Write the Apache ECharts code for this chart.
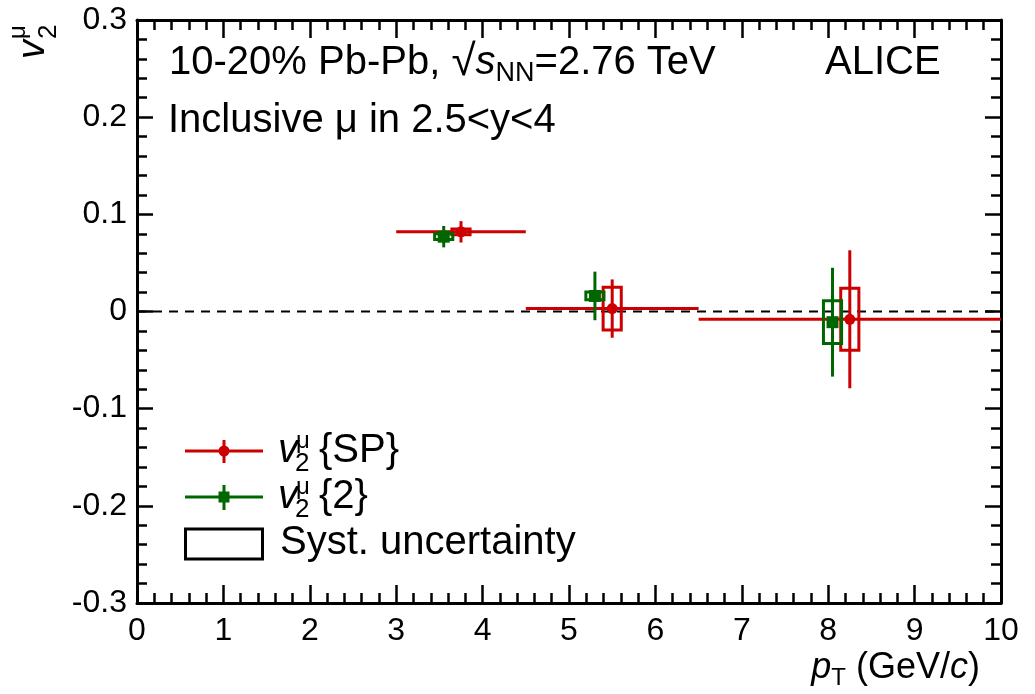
<!DOCTYPE html>
<html>
<head>
<meta charset="utf-8">
<script src="https://cdn.jsdelivr.net/npm/echarts@6/dist/echarts.min.js"></script>
<style>
  html, body { margin: 0; padding: 0; background: #ffffff; }
  #chart { width: 1035px; height: 694px; }
</style>
</head>
<body>
<div id="chart"></div>
<script>
// pT bins (GeV/c)
const binLow  = [3.0, 4.5, 6.5];
const binHigh = [4.5, 6.5, 10.0];

// v2{SP}: points, statistical and systematic uncertainties
const spPt   = [3.75, 5.50, 8.25];
const spV2   = [0.082, 0.003, -0.008];
const spStat = [0.011, 0.030, 0.071];
const spSyst = [0.003, 0.022, 0.032];

// v2{2}: points, statistical and systematic uncertainties
const twoPt   = [3.55, 5.30, 8.05];
const twoV2   = [0.077, 0.016, -0.011];
const twoStat = [0.011, 0.025, 0.056];
const twoSyst = [0.003, 0.004, 0.022];

// axis ticks
const xTicks = [0, 1, 2, 3, 4, 5, 6, 7, 8, 9, 10];
const yTicks = [-0.3, -0.2, -0.1, 0, 0.1, 0.2, 0.3];

const FONT = '"Liberation Sans", Arial, Helvetica, sans-serif';
const RED = '#cc0000';
const GREEN = '#006600';
const SYST_HALF = 0.105;   // half width of systematic boxes in pT

const spData = spPt.map((x, i) => [x, spV2[i], spStat[i], spSyst[i], binLow[i], binHigh[i]]);
const twoData = twoPt.map((x, i) => [x, twoV2[i], twoStat[i], twoSyst[i]]);

function pointRenderer(color, withXErr, marker) {
  return function (params, api) {
    const x = api.value(0), y = api.value(1), stat = api.value(2), syst = api.value(3);
    const c = api.coord([x, y]);
    const t = api.coord([x, y + stat]);
    const b = api.coord([x, y - stat]);
    const s1 = api.coord([x - SYST_HALF, y + syst]);
    const s2 = api.coord([x + SYST_HALF, y - syst]);
    const kids = [];
    if (withXErr) {
      const l = api.coord([api.value(4), y]);
      const r = api.coord([api.value(5), y]);
      kids.push({ type: 'line', shape: { x1: l[0], y1: l[1], x2: r[0], y2: r[1] },
                  style: { stroke: color, lineWidth: 3 } });
    }
    kids.push({ type: 'line', shape: { x1: t[0], y1: t[1], x2: b[0], y2: b[1] },
                style: { stroke: color, lineWidth: 3 } });
    kids.push({ type: 'rect', shape: { x: s1[0], y: s1[1], width: s2[0] - s1[0], height: s2[1] - s1[1] },
                style: { fill: 'none', stroke: color, lineWidth: 3 } });
    if (marker === 'circle') {
      kids.push({ type: 'circle', shape: { cx: c[0], cy: c[1], r: 5.5 }, style: { fill: color } });
    } else {
      kids.push({ type: 'rect', shape: { x: c[0] - 6, y: c[1] - 6, width: 12, height: 12 }, style: { fill: color } });
    }
    return { type: 'group', children: kids };
  };
}

function zeroLine(params, api) {
  const a = api.coord([api.value(0), api.value(2)]);
  const b = api.coord([api.value(1), api.value(2)]);
  return { type: 'line', shape: { x1: a[0], y1: a[1], x2: b[0], y2: b[1] },
           style: { stroke: '#000', lineWidth: 2, lineDash: [9, 7] } };
}

function tickAxis(pos, show, major, minor) {
  return {
    type: 'value', position: pos,
    axisLine: { show: true, onZero: false, lineStyle: { color: '#000', width: 3 } },
    axisTick: { show: true, inside: true, length: major, lineStyle: { color: '#000', width: 2.5 } },
    minorTick: { show: true, splitNumber: 5, length: minor, lineStyle: { color: '#000', width: 2.5 } },
    splitLine: { show: false },
    minorSplitLine: { show: false },
    axisLabel: { show: show, color: '#000', fontFamily: FONT, fontSize: 32,
                 showMinLabel: true, showMaxLabel: true }
  };
}

const xBottom = Object.assign(tickAxis('bottom', true, 18, 10), { min: xTicks[0], max: xTicks[xTicks.length - 1], interval: 1 });
xBottom.axisLabel.margin = 12;
const xTop = Object.assign(tickAxis('top', false, 18, 10), { min: xTicks[0], max: xTicks[xTicks.length - 1], interval: 1 });
const yLeft = Object.assign(tickAxis('left', true, 16, 10), { min: yTicks[0], max: yTicks[yTicks.length - 1], interval: 0.1 });
yLeft.axisLabel.margin = 10;
yLeft.axisLabel.formatter = v => (Math.abs(v) < 1e-9 ? '0' : v.toFixed(1));
const yRight = Object.assign(tickAxis('right', false, 16, 10), { min: yTicks[0], max: yTicks[yTicks.length - 1], interval: 0.1 });

// text helpers
function txt(x, baseline, text, size, extra) {
  return { type: 'text', x: x, y: baseline - 0.35 * size, silent: true, z: 100,
           style: Object.assign({ text: text, fill: '#000', fontFamily: FONT, fontSize: size,
                                  align: 'left', verticalAlign: 'middle' }, extra || {}) };
}
function v2Label(x, baseline, tail) {
  return [
    txt(x, baseline, 'v', 40, { fontStyle: 'italic' }),
    txt(x + 18, baseline - 15, 'μ', 24),
    txt(x + 17, baseline + 8, '2', 26),
    txt(x + 41, baseline, tail, 40)
  ];
}

const graphics = [
  // header
  { type: 'text', x: 169, y: 39, silent: true, z: 100,
    style: { text: '10-20% Pb-Pb, {rad|√}{it|s}{sub|NN}=2.76 TeV', fill: '#000', fontFamily: FONT,
             fontSize: 40, lineHeight: 48, align: 'left', verticalAlign: 'top',
             rich: {
               rad: { fontSize: 44, lineHeight: 48, fontFamily: FONT },
               it: { fontStyle: 'italic', fontSize: 40, lineHeight: 48, fontFamily: FONT },
               sub: { fontSize: 27, lineHeight: 22, verticalAlign: 'bottom', fontFamily: FONT }
             } } },
  txt(825, 77, 'ALICE', 40),
  txt(168, 135, 'Inclusive μ in 2.5<y<4', 40),

  // legend
  { type: 'line', shape: { x1: 185, y1: 451, x2: 263, y2: 451 }, style: { stroke: RED, lineWidth: 3 }, z: 100 },
  { type: 'line', shape: { x1: 224, y1: 440, x2: 224, y2: 463 }, style: { stroke: RED, lineWidth: 3 }, z: 100 },
  { type: 'circle', shape: { cx: 224, cy: 451, r: 5.5 }, style: { fill: RED }, z: 100 },
  { type: 'line', shape: { x1: 185, y1: 497, x2: 263, y2: 497 }, style: { stroke: GREEN, lineWidth: 3 }, z: 100 },
  { type: 'line', shape: { x1: 224, y1: 485, x2: 224, y2: 510 }, style: { stroke: GREEN, lineWidth: 3 }, z: 100 },
  { type: 'rect', shape: { x: 218.5, y: 491.5, width: 11, height: 11 }, style: { fill: GREEN }, z: 100 },
  { type: 'rect', shape: { x: 185.5, y: 529, width: 77, height: 30 }, style: { fill: 'none', stroke: '#000', lineWidth: 3 }, z: 100 },
  ...v2Label(278, 465, '{SP}'),
  ...v2Label(278, 511, '{2}'),
  txt(280, 557, 'Syst. uncertainty', 40),

  // x axis title
  { type: 'text', x: 980, y: 646, silent: true, z: 100,
    style: { text: '{it|p}{sub|T} (GeV/{it|c})', fill: '#000', fontFamily: FONT,
             fontSize: 36, lineHeight: 44, align: 'right', verticalAlign: 'top',
             rich: {
               it: { fontStyle: 'italic', fontSize: 36, lineHeight: 44, fontFamily: FONT },
               sub: { fontSize: 24, lineHeight: 16, verticalAlign: 'bottom', fontFamily: FONT }
             } } },

  // y axis title (rotated)
  { type: 'group', x: 47, y: 59, rotation: Math.PI / 2, z: 100,
    children: [
      txt(0, 0, 'v', 38, { fontStyle: 'italic' }),
      txt(20, -20, 'μ', 24),
      txt(20, 11, '2', 26)
    ] }
];

const chart = echarts.init(document.getElementById('chart'), null, { renderer: 'canvas' });
chart.setOption({
  animation: false,
  backgroundColor: '#ffffff',
  grid: { left: 137, right: 34, top: 20, bottom: 91, containLabel: false },
  xAxis: [xBottom, xTop],
  yAxis: [yLeft, yRight],
  series: [
    { type: 'custom', xAxisIndex: 0, yAxisIndex: 0, data: [[xTicks[0], xTicks[xTicks.length - 1], 0]],
      renderItem: zeroLine, silent: true, z: 1 },
    { type: 'custom', name: 'v2{SP}', xAxisIndex: 0, yAxisIndex: 0, data: spData,
      renderItem: pointRenderer(RED, true, 'circle'), silent: true, z: 2 },
    { type: 'custom', name: 'v2{2}', xAxisIndex: 0, yAxisIndex: 0, data: twoData,
      renderItem: pointRenderer(GREEN, false, 'square'), silent: true, z: 3 }
  ],
  graphic: graphics
});
</script>
</body>
</html>
